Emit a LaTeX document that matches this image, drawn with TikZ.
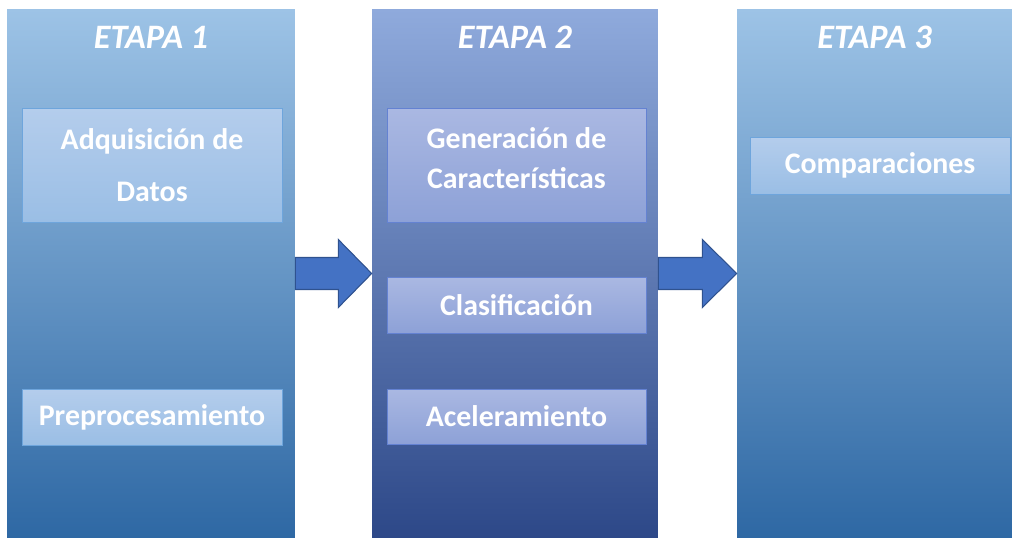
\documentclass[tikz,border=0pt]{standalone}
\usepackage{fontspec}
\setmainfont{Carlito}
\usetikzlibrary{positioning,calc}

\definecolor{azulA}{RGB}{157,195,230}
\definecolor{azulB}{RGB}{93,156,213}
\definecolor{azulC}{RGB}{46,104,164}
\definecolor{indA}{RGB}{143,170,220}
\definecolor{indB}{RGB}{68,114,196}
\definecolor{indC}{RGB}{45,72,136}
\definecolor{cajaA1}{RGB}{180,205,236}
\definecolor{cajaA2}{RGB}{154,190,229}
\definecolor{cajaB1}{RGB}{170,184,226}
\definecolor{cajaB2}{RGB}{141,161,215}
\definecolor{bordeA}{RGB}{110,165,220}
\definecolor{bordeB}{RGB}{100,130,210}
\definecolor{flechaborde}{RGB}{47,82,143}

\tikzset{
  etapa/.style={rectangle, minimum height=10.58cm, inner sep=0pt},
  titulo/.style={text=white, font=\bfseries\itshape\fontsize{19.5}{22}\selectfont},
  texto/.style={text=white, align=center, font=\bfseries\fontsize{17}{23}\selectfont},
  caja/.style={rectangle, texto, minimum width=5.2cm, inner sep=0pt},
  cajaA/.style={caja, draw=bordeA, top color=cajaA1, bottom color=cajaA2},
  cajaB/.style={caja, draw=bordeB, top color=cajaB1, bottom color=cajaB2, minimum width=5.18cm},
  flecha/.style={fill=indB, draw=flechaborde, line width=0.6pt}
}

\begin{document}
\begin{tikzpicture}[x=0.02cm, y=-0.02cm]
  \useasboundingbox (0,0) rectangle (1014,538);

  % etapas
  \node[etapa, minimum width=5.76cm, top color=azulA, middle color=azulB, bottom color=azulC] (e1) at (151,273.5) {};
  \node[etapa, minimum width=5.72cm, top color=indA, middle color=indB, bottom color=indC] (e2) at (515,273.5) {};
  \node[etapa, minimum width=5.5cm, top color=azulA, middle color=azulB, bottom color=azulC] (e3) at (874.5,273.5) {};

  \node[titulo] (t1) at (151,37) {ETAPA 1};
  \node[titulo] (t2) at (515,37) {ETAPA 2};
  \node[titulo] (t3) at (874.5,37) {ETAPA 3};

  % cajas
  \node[cajaA, minimum height=2.28cm, font=\bfseries\fontsize{17}{30}\selectfont] (adq) at (152,165) {Adquisición de\\Datos};
  \node[cajaA, minimum height=1.12cm] (pre) at (152,417) {Preprocesamiento};
  \node[cajaB, minimum height=2.28cm,
    label={[texto, yshift=4pt]center:Generación de\\Características}] (gen) at (516.5,165) {};
  \node[cajaB, minimum height=1.12cm] (cla) at (516.5,305) {Clasificación};
  \node[cajaB, minimum height=1.1cm] (ace) at (516.5,416.5) {Aceleramiento};
  \node[cajaA, minimum height=1.14cm] (com) at (880,165.5) {Comparaciones};

  % flechas
  \draw[flecha] ($(e1.east)+(0,-16)$) -- ($(e1.east)+(43,-16)$) -- ($(e1.east)+(43,-34)$)
    -- (e2.west) -- ($(e1.east)+(43,34)$) -- ($(e1.east)+(43,16)$) -- ($(e1.east)+(0,16)$) -- cycle;
  \draw[flecha] ($(e2.east)+(0,-16)$) -- ($(e2.east)+(44,-16)$) -- ($(e2.east)+(44,-34)$)
    -- (e3.west) -- ($(e2.east)+(44,34)$) -- ($(e2.east)+(44,16)$) -- ($(e2.east)+(0,16)$) -- cycle;
\end{tikzpicture}
\end{document}
